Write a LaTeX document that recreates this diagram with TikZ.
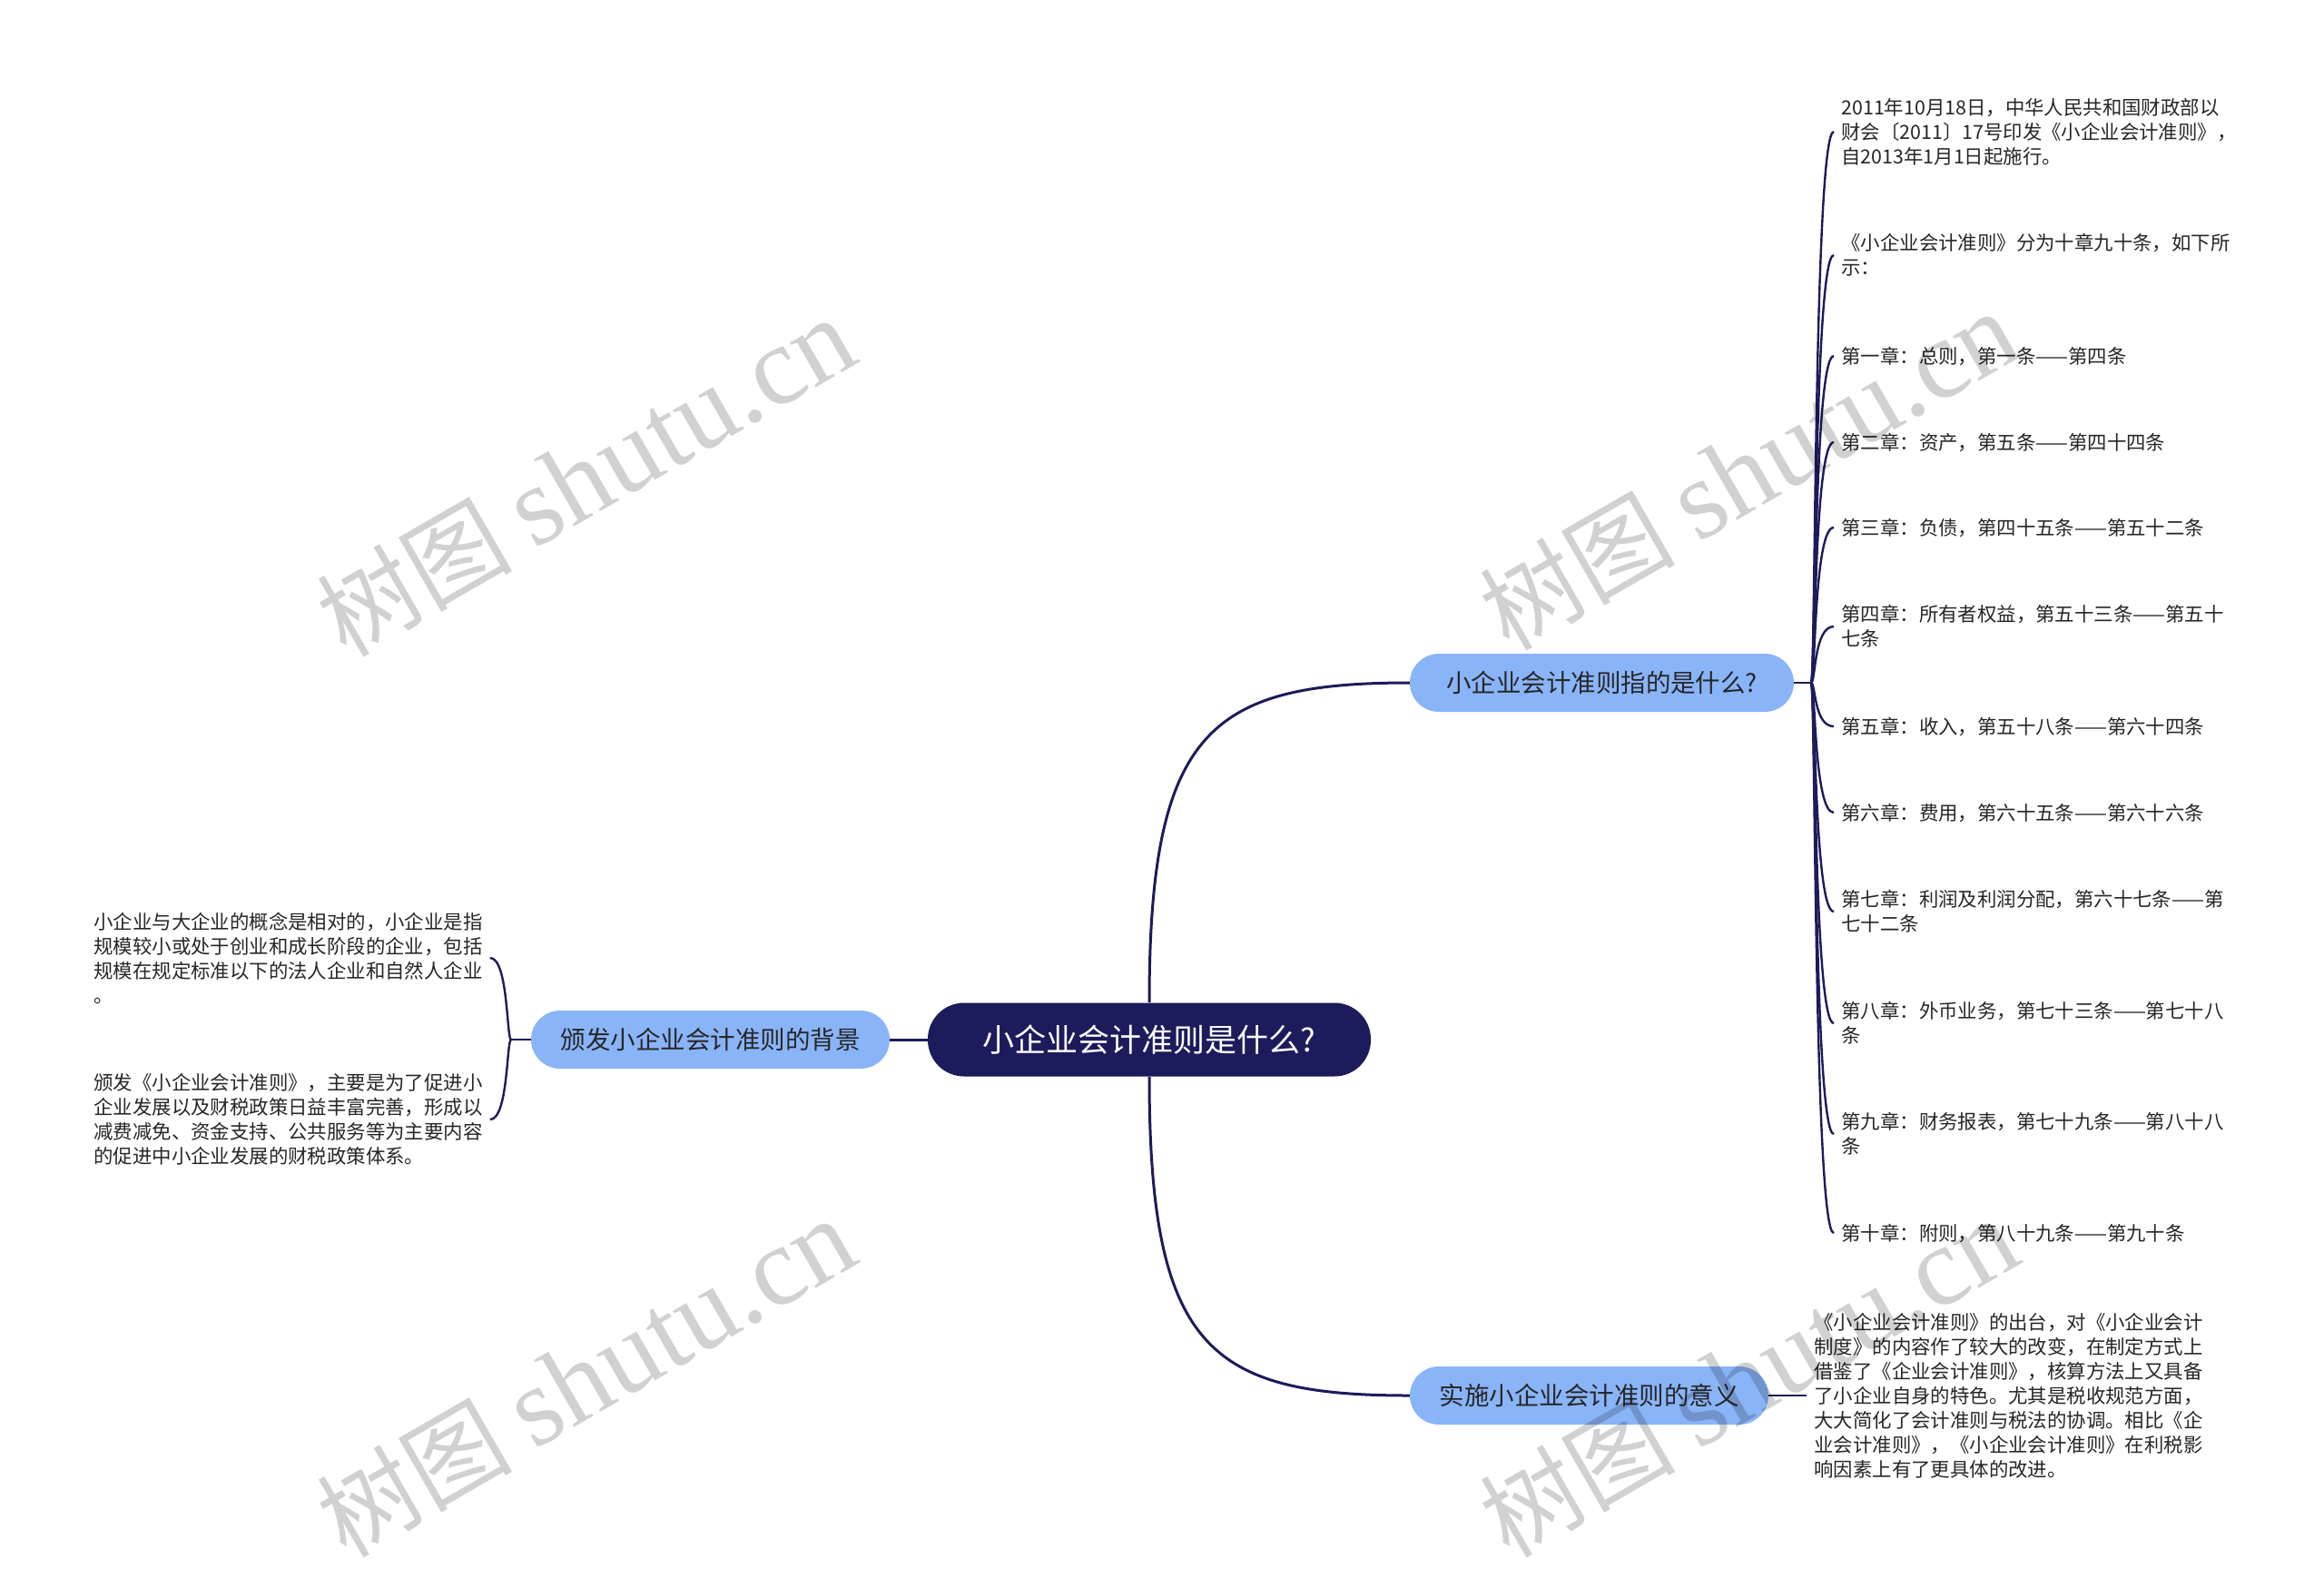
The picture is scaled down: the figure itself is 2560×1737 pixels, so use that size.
\documentclass[tikz,border=0pt]{standalone}
\usepackage{fontspec}
\setmainfont{Noto Sans CJK SC}
\newfontfamily\cjkfont{Noto Sans CJK SC}
\newfontfamily\wmlat{Liberation Serif}
\usetikzlibrary{calc}
\definecolor{navy}{HTML}{1C1B5B}
\definecolor{lblue}{HTML}{8AB4F8}
\definecolor{ltext}{HTML}{262626}
\tikzset{
  mainconn/.style={draw=navy, line width=1.5pt},
  leafconn/.style={draw=navy, line width=1.2pt},
  rootbox/.style={fill=navy, text=white, rounded corners=20pt, minimum height=40.5pt, minimum width=244pt, inner sep=0pt, font=\fontsize{17.5}{20}\selectfont},
  topicbox/.style={fill=lblue, text=ltext, rounded corners=16pt, minimum height=32pt, inner sep=0pt, font=\fontsize{13.75}{16}\selectfont},
  leafbox/.style={align=left, inner xsep=4pt, inner ysep=0pt, text=ltext, font=\fontsize{10.7}{13.5}\selectfont},
  wmark/.style={text=black, text opacity=0.18, rotate=30, inner sep=0pt},
}
\newcommand{\wmtext}{{\cjkfont\fontsize{54}{60}\selectfont 树图}\hspace{12pt}{\wmlat\fontsize{62}{66}\selectfont shutu.cn}}
\begin{document}
\begin{tikzpicture}[x=0.5pt,y=-0.5pt]
\useasboundingbox (0,0) rectangle (2560,1737);
\fill[white] (0,0) rectangle (2560,1737);

% main connectors (behind nodes)
\coordinate (cn) at (1266,1104);
\coordinate (cs) at (1266,1186);
\coordinate (r1w) at (1553,752);
\coordinate (r2w) at (1553,1537);
\draw[mainconn] (cn) .. controls ($(cn)+(0,-300)$) and ($(r1w)+(-220,0)$) .. (r1w);
\draw[mainconn] (cs) .. controls ($(cs)+(0,300)$) and ($(r2w)+(-220,0)$) .. (r2w);

% main nodes
\node[rootbox] (c) at (1266,1145) {小企业会计准则是什么?};
\node[topicbox, minimum width=211.5pt] (r1) at (1764.5,752) {小企业会计准则指的是什么?};
\node[topicbox, minimum width=197.5pt] (l1) at (782.5,1145) {颁发小企业会计准则的背景};
\node[topicbox, minimum width=197.5pt] (r2) at (1750.5,1537) {实施小企业会计准则的意义};
\draw[mainconn] (c.west) -- (l1.east);

% right leaves
\node[leafbox, anchor=west] (a1) at (2020,145) {2011年10月18日，中华人民共和国财政部以\\财会〔2011〕17号印发《小企业会计准则》，\\自2013年1月1日起施行。};
\node[leafbox, anchor=west] (a2) at (2020,281) {《小企业会计准则》分为十章九十条，如下所\\示：};
\node[leafbox, anchor=west] (a3) at (2020,392) {第一章：总则，第一条——第四条};
\node[leafbox, anchor=west] (a4) at (2020,487) {第二章：资产，第五条——第四十四条};
\node[leafbox, anchor=west] (a5) at (2020,581) {第三章：负债，第四十五条——第五十二条};
\node[leafbox, anchor=west] (a6) at (2020,690) {第四章：所有者权益，第五十三条——第五十\\七条};
\node[leafbox, anchor=west] (a7) at (2020,800) {第五章：收入，第五十八条——第六十四条};
\node[leafbox, anchor=west] (a8) at (2020,895) {第六章：费用，第六十五条——第六十六条};
\node[leafbox, anchor=west] (a9) at (2020,1004) {第七章：利润及利润分配，第六十七条——第\\七十二条};
\node[leafbox, anchor=west] (a10) at (2020,1127) {第八章：外币业务，第七十三条——第七十八\\条};
\node[leafbox, anchor=west] (a11) at (2020,1249) {第九章：财务报表，第七十九条——第八十八\\条};
\node[leafbox, anchor=west] (a12) at (2020,1358) {第十章：附则，第八十九条——第九十条};

\coordinate (rj) at (1995,752);
\draw[leafconn] (r1.east) -- (rj);
\foreach \n in {a1,a2,a3,a4,a5,a6,a7,a8,a9,a10,a11,a12}{
  \draw[leafconn] (rj) .. controls ($(rj)+(5,0)$) and ($(rj|-\n.west)+(3,0)$) .. (\n.west);
}

% left leaves
\node[leafbox, anchor=west] (b1) at (95,1055) {小企业与大企业的概念是相对的，小企业是指\\规模较小或处于创业和成长阶段的企业，包括\\规模在规定标准以下的法人企业和自然人企业\\。};
\node[leafbox, anchor=west] (b2) at (95,1233) {颁发《小企业会计准则》，主要是为了促进小\\企业发展以及财税政策日益丰富完善，形成以\\减费减免、资金支持、公共服务等为主要内容\\的促进中小企业发展的财税政策体系。};
\coordinate (lj) at (563,1145);
\draw[leafconn] (l1.west) -- (lj);
\foreach \n in {b1,b2}{
  \draw[leafconn] (lj) .. controls ($(lj)+(-5,0)$) and ($(lj|-\n.east)+(-3,0)$) .. (\n.east);
}

% bottom leaf
\node[leafbox, anchor=west] (d1) at (1990,1537) {《小企业会计准则》的出台，对《小企业会计\\制度》的内容作了较大的改变，在制定方式上\\借鉴了《企业会计准则》，核算方法上又具备\\了小企业自身的特色。尤其是税收规范方面，\\大大简化了会计准则与税法的协调。相比《企\\业会计准则》，《小企业会计准则》在利税影\\响因素上有了更具体的改进。};
\draw[leafconn] (r2.east) -- (d1.west);

% watermarks
\node[wmark] (w1) at (645,526) {\wmtext};
\node[wmark] (w2) at (1926,519) {\wmtext};
\node[wmark] (w3) at (645,1518) {\wmtext};
\node[wmark] (w4) at (1926,1518) {\wmtext};
\end{tikzpicture}
\end{document}
